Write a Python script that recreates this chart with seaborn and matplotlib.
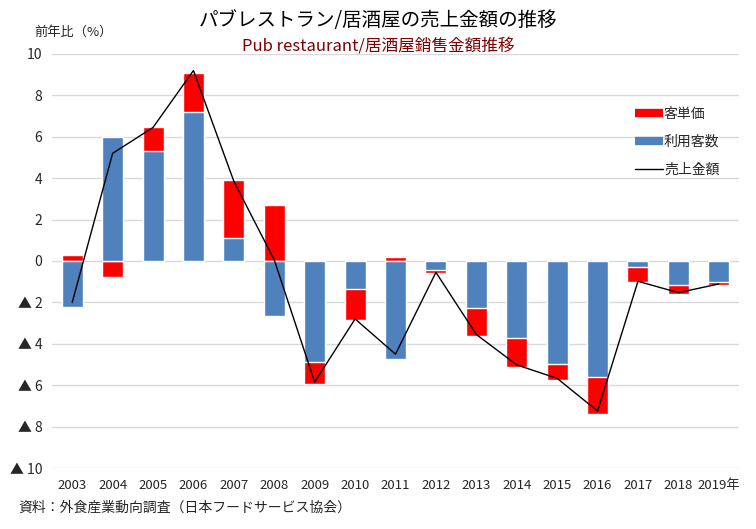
import numpy as np
import pandas as pd
import matplotlib
matplotlib.use("Agg")
import matplotlib.pyplot as plt
import seaborn as sns
from matplotlib.lines import Line2D

# data (% change vs previous year)
years = ["2003", "2004", "2005", "2006", "2007", "2008", "2009", "2010", "2011",
         "2012", "2013", "2014", "2015", "2016", "2017", "2018", "2019年"]
customers = [-2.24, 6.0, 5.33, 7.21, 1.13, -2.64, -4.88, -1.35, -4.73,
             -0.45, -2.27, -3.72, -4.98, -5.59, -0.29, -1.14, -1.01]
unit_price = [0.29, -0.76, 1.14, 1.89, 2.8, 2.7, -1.05, -1.49, 0.19,
              -0.12, -1.35, -1.38, -0.77, -1.79, -0.72, -0.44, -0.13]
sales = [-2.0, 5.2, 6.45, 9.2, 3.85, 0.05, -5.85, -2.8, -4.5,
         -0.55, -3.55, -5.02, -5.67, -7.25, -0.98, -1.53, -1.11]

yticks = [10, 8, 6, 4, 2, 0, -2, -4, -6, -8, -10]
ytick_labels = ["10", "8", "6", "4", "2", "0", "▲ 2", "▲ 4", "▲ 6", "▲ 8", "▲ 10"]

BLUE = "#4F81BD"
RED = "#FF0000"

df = pd.DataFrame({"year": years, "customers": customers,
                   "unit_price": unit_price, "sales": sales})
# red drawn behind blue: stacked on blue when same sign, else from zero
same = np.sign(df["customers"]) == np.sign(df["unit_price"])
df["red_top"] = np.where(same, df["customers"] + df["unit_price"], df["unit_price"])

sns.set_theme(style="white")
plt.rcParams['font.family'] = ['Noto Sans CJK JP', 'DejaVu Sans']

fig = plt.figure(figsize=(7.56, 5.29), dpi=100)
ax = fig.add_axes([0.0688, 0.1153, 0.9087, 0.7827])

sns.barplot(data=df, x="year", y="red_top", color=RED, saturation=1,
            width=0.52, ax=ax, zorder=2)
sns.barplot(data=df, x="year", y="customers", color=BLUE, saturation=1,
            width=0.52, ax=ax, zorder=3)
sns.lineplot(x=np.arange(len(years)), y=df["sales"], color="black",
             linewidth=1, ax=ax, zorder=4)

ax.set_xlim(-0.5, len(years) - 0.5)
ax.set_ylim(-10, 10)
ax.set_yticks(yticks)
ax.set_yticklabels(ytick_labels, fontsize=10)
ax.set_xticks(range(len(years)))
ax.set_xticklabels(years, fontsize=9.5)
ax.tick_params(axis="y", length=0, pad=7)
ax.tick_params(axis="x", length=0, pad=8)
ax.set_xlabel("")
ax.set_ylabel("")
ax.yaxis.grid(True, color="#d9d9d9", linewidth=1, zorder=0)
ax.set_axisbelow(True)
for s in ax.spines.values():
    s.set_visible(False)

handles = [Line2D([], [], color=RED, lw=6, solid_capstyle="butt"),
           Line2D([], [], color=BLUE, lw=6, solid_capstyle="butt"),
           Line2D([], [], color="black", lw=1)]
fig.legend(handles, ["客単価", "利用客数", "売上金額"], loc="upper left",
           bbox_to_anchor=(0.824, 0.822), frameon=False, fontsize=10,
           handlelength=2.0, handletextpad=0.05, labelspacing=1.0)

fig.text(0.5, 0.962, "パブレストラン/居酒屋の売上金額の推移", ha="center",
         va="center", fontsize=14, color="black")
fig.text(0.5, 0.913, "Pub restaurant/居酒屋銷售金額推移", ha="center",
         va="center", fontsize=12, color="#7F0000")
fig.text(0.046, 0.94, "前年比（%）", ha="left", va="center", fontsize=9.5)
fig.text(0.024, 0.04, "資料：外食産業動向調査（日本フードサービス協会）",
         ha="left", va="center", fontsize=10)

fig.savefig("out.png", dpi=100)
